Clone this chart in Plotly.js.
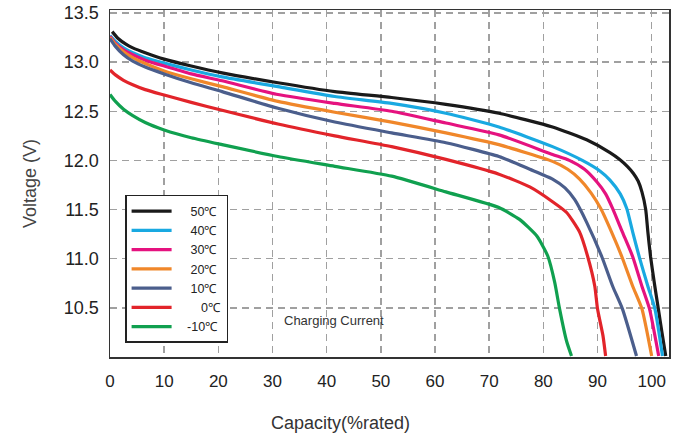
<!DOCTYPE html>
<html>
<head>
<meta charset="utf-8">
<script src="https://cdn.plot.ly/plotly-3.0.1.min.js"></script>
<style>html,body{margin:0;padding:0;background:#fff;}#chart{width:689px;height:441px;}</style>
</head>
<body>
<div id="chart"></div>
<script>
// Series names
const seriesNames = ["\u00a0\u00a0\u00a0\u00a050\u2103", "\u00a0\u00a0\u00a0\u00a040\u2103", "\u00a0\u00a0\u00a0\u00a030\u2103", "\u00a0\u00a0\u00a0\u00a020\u2103", "\u00a0\u00a0\u00a0\u00a010\u2103", "\u00a0\u00a0\u00a0\u00a0\u2007\u00a00\u2103", "\u00a0\u00a0\u00a0-10\u2103"];
const seriesColors = ["#1a1a1a", "#19a9e1", "#e5127f", "#f0872a", "#4b5e8c", "#e2242a", "#10a04f"];

// Capacity (%rated) and Voltage (V) for each temperature
const cap50 = [0.4, 1.5, 3, 4.2, 6.5, 10, 15, 20.7, 31, 41.5, 52, 62, 71.8, 81.7, 88, 92.3, 94.1, 95.5, 96.6, 97.5, 98.2, 98.9, 99.3, 99.8, 100.5, 101.2, 101.9, 102.6];
const volt50 = [13.31, 13.24, 13.18, 13.145, 13.095, 13.03, 12.96, 12.89, 12.79, 12.70, 12.64, 12.57, 12.48, 12.34, 12.21, 12.08, 12.01, 11.94, 11.87, 11.79, 11.68, 11.50, 11.27, 11.02, 10.75, 10.50, 10.25, 10.01];

const cap40 = [0, 1, 2.5, 4.2, 6.5, 10, 15, 20.7, 31, 41.5, 52, 62, 71.8, 81.7, 87.2, 90.5, 92.3, 94.2, 95.4, 96.5, 97.8, 99.3, 100.6, 102.0];
const volt40 = [13.27, 13.21, 13.145, 13.095, 13.045, 12.99, 12.92, 12.85, 12.75, 12.65, 12.58, 12.48, 12.34, 12.14, 12.00, 11.89, 11.80, 11.66, 11.51, 11.27, 11.00, 10.72, 10.49, 10.01];

const cap30 = [0, 1, 2.5, 4.2, 6.5, 10, 15, 20.7, 31, 41.5, 52, 62, 71.8, 81.7, 84.8, 87.6, 89.9, 91.5, 92.8, 94.6, 96.5, 98.2, 99.6, 101.3];
const volt30 = [13.26, 13.19, 13.125, 13.075, 13.02, 12.96, 12.88, 12.81, 12.67, 12.58, 12.50, 12.38, 12.26, 12.06, 12.00, 11.91, 11.78, 11.66, 11.51, 11.27, 11.02, 10.72, 10.49, 10.01];

const cap20 = [0, 1, 2.5, 4.2, 6.5, 10, 15, 20.7, 31, 41.5, 52, 62, 71.8, 81.7, 84.5, 86.7, 88.8, 90.6, 92.6, 94.5, 96.5, 98.2, 100.0];
const volt20 = [13.25, 13.18, 13.105, 13.045, 12.985, 12.91, 12.83, 12.75, 12.60, 12.49, 12.39, 12.28, 12.16, 11.99, 11.91, 11.81, 11.67, 11.51, 11.27, 11.02, 10.72, 10.49, 10.01];

const cap10 = [0, 1, 2.5, 4.2, 6.5, 10, 15, 20.7, 31, 41.5, 52, 62, 71.8, 77.5, 81.7, 84.0, 85.8, 88, 90.8, 92.8, 94.6, 97.2];
const volt10 = [13.24, 13.16, 13.075, 13.01, 12.95, 12.88, 12.79, 12.70, 12.53, 12.39, 12.28, 12.18, 12.04, 11.91, 11.81, 11.72, 11.60, 11.37, 11.02, 10.72, 10.49, 10.01];

const cap0 = [0, 1, 2.5, 4.2, 6.5, 10, 15, 20.7, 31, 41.5, 52, 62, 71.8, 77.5, 81.7, 84.3, 86.7, 88.2, 89.5, 90.0, 91.0, 91.5];
const volt0 = [12.92, 12.87, 12.815, 12.77, 12.72, 12.665, 12.59, 12.51, 12.37, 12.25, 12.14, 12.01, 11.86, 11.73, 11.58, 11.47, 11.27, 11.02, 10.72, 10.49, 10.22, 10.01];

const capM10 = [0, 1, 2.5, 4.2, 6.5, 10, 15, 20.7, 31, 41.5, 52, 62, 71.8, 75.6, 78.8, 80.8, 82.1, 83.0, 84.3, 85.2];
const voltM10 = [12.67, 12.60, 12.52, 12.455, 12.385, 12.31, 12.23, 12.16, 12.04, 11.94, 11.84, 11.68, 11.52, 11.40, 11.23, 11.03, 10.76, 10.49, 10.16, 10.01];

const capSeries = [cap50, cap40, cap30, cap20, cap10, cap0, capM10];
const voltSeries = [volt50, volt40, volt30, volt20, volt10, volt0, voltM10];

// Axis ticks
const xTickVals = [0, 10, 20, 30, 40, 50, 60, 70, 80, 90, 100];
const yTickVals = [10.5, 11.0, 11.5, 12.0, 12.5, 13.0, 13.5];
const yTickText = ["10.5", "11.0", "11.5", "12.0", "12.5", "13.0", "13.5"];

const FONT = "Liberation Sans, Arial, sans-serif";

const traces = seriesNames.map((name, i) => ({
  x: capSeries[i],
  y: voltSeries[i],
  name: name,
  type: "scatter",
  mode: "lines",
  line: { color: seriesColors[i], width: 3.2, shape: "spline", smoothing: 0.55 }
}));

const gridStyle = { showgrid: true, gridcolor: "#a0a0a0", griddash: "7px,5px", gridwidth: 1.4 };

const layout = {
  width: 689, height: 441,
  margin: { l: 110, r: 20, t: 10, b: 84 },
  paper_bgcolor: "#ffffff", plot_bgcolor: "#ffffff",
  font: { family: FONT, color: "#222" },
  showlegend: true,
  legend: {
    x: 0.027, y: 0.467, xanchor: "left", yanchor: "top",
    bgcolor: "#ffffff", bordercolor: "#222", borderwidth: 1.5,
    font: { family: FONT, size: 12.5, color: "#222" },
    itemwidth: 40, tracegroupgap: 0
  },
  xaxis: Object.assign({
    range: [0, 103.2], tickvals: xTickVals, ticks: "", zeroline: false,
    showline: true, linecolor: "#333", linewidth: 1.5, mirror: true,
    ticklabelstandoff: 8,
    tickfont: { family: FONT, size: 17, color: "#222" }
  }, gridStyle),
  yaxis: Object.assign({
    range: [10.0, 13.53], tickvals: yTickVals, ticktext: yTickText, ticks: "", zeroline: false,
    showline: true, linecolor: "#333", linewidth: 1.5, mirror: true,
    ticklabelstandoff: 6,
    tickfont: { family: FONT, size: 18, color: "#222" },
    title: { text: "Voltage (V)", font: { family: FONT, size: 18, color: "#444" }, standoff: 22 }
  }, gridStyle),
  annotations: [
    { x: 41.3, y: 10.37, xref: "x", yref: "y", text: "Charging Current", showarrow: false,
      font: { family: FONT, size: 13, color: "#333" } },
    { x: (340 - 110) / 559, y: -0.19, xref: "paper", yref: "paper", text: "Capacity(%rated)", showarrow: false,
      xanchor: "center", yanchor: "middle", font: { family: FONT, size: 18, color: "#333" } }
  ]
};

Plotly.newPlot("chart", traces, layout, { displayModeBar: false, staticPlot: true });
</script>
</body>
</html>
